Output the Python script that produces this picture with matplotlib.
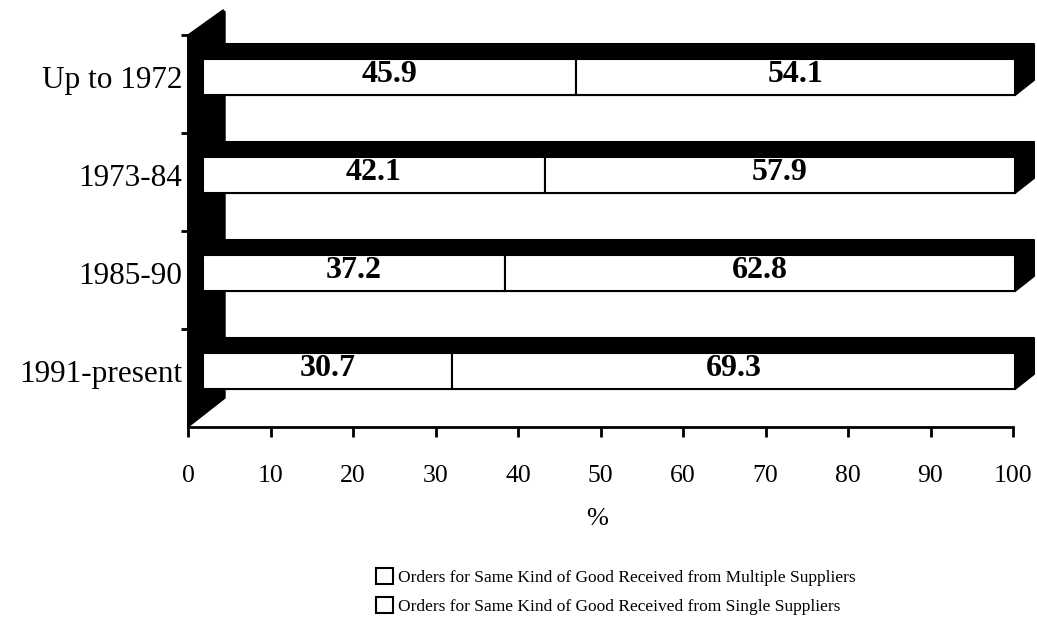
import matplotlib.pyplot as plt
from matplotlib.patches import Polygon, Patch

# ---------- data ----------
periods = ['Up to 1972', '1973-84', '1985-90', '1991-present']
multiple = [45.9, 42.1, 37.2, 30.7]
single = [54.1, 57.9, 62.8, 69.3]
ticks = list(range(0, 101, 10))
legend_labels = ['Orders for Same Kind of Good Received from Multiple Suppliers',
                 'Orders for Same Kind of Good Received from Single Suppliers']

plt.rcParams['font.family'] = ['Liberation Serif', 'DejaVu Serif']

W, H = 1037, 641
fig = plt.figure(figsize=(W / 100, H / 100), dpi=100)


def box(l, t, r, b):
    # pixel box (from top-left) -> figure fraction
    return [l / W, 1 - b / H, (r - l) / W, (b - t) / H]


# value axis (floor of the 3D chart)
ax = fig.add_axes(box(188, 35, 1013, 427))
ax.set_xlim(0, 100)
ax.set_ylim(0, 4)
ax.set_xticks(ticks)
ax.set_yticks([1, 2, 3, 4])
ax.set_yticklabels([])
for s in ['top', 'right']:
    ax.spines[s].set_visible(False)
ax.spines['bottom'].set_linewidth(2)
ax.spines['left'].set_linewidth(2)
ax.tick_params(axis='x', direction='out', length=7, width=2, pad=20, labelsize=18.5)
ax.tick_params(axis='y', direction='out', length=5, width=2)
ax.patch.set_visible(False)

# bars (front plane of the 3D chart)
bx = fig.add_axes(box(203, 28, 1015, 420), zorder=2)
bx.set_xlim(0, 100)
bx.set_ylim(3.5, -0.5)
bx.patch.set_visible(False)
for s in bx.spines.values():
    s.set_visible(False)
bx.set_xticks([])
bx.set_yticks(range(len(periods)))
bx.set_yticklabels(periods, fontsize=22.5)
bx.tick_params(axis='y', length=0, pad=15)

# 3D depth in data units
dx, dy, h = 19 / 8.12, 15 / 98, 36 / 98


def px(x, y):
    return ((x - 203) / 8.12, (y - 77) / 98)


# side wall
wall = Polygon([px(188, 35), px(223, 10), px(225, 12), px(225, 398), px(188, 427)],
               closed=True, fc='black', ec='black', clip_on=False, zorder=1)
bx.add_patch(wall)

for i in range(len(periods)):
    yt, yb = i - h / 2, i + h / 2
    depth = Polygon([(0, yt), (dx, yt - dy), (100 + dx, yt - dy), (100 + dx, yb - dy),
                     (100, yb), (0, yb)], closed=True, fc='black', ec='black',
                    lw=1.5, joinstyle='round', clip_on=False, zorder=2)
    bx.add_patch(depth)

b1 = bx.barh(range(len(periods)), multiple, height=h, color='white', edgecolor='black',
             linewidth=1.5, zorder=3)
b2 = bx.barh(range(len(periods)), single, left=multiple, height=h, color='white',
             edgecolor='black', linewidth=1.5, zorder=3)
for p in list(b1) + list(b2):
    p.set_clip_on(False)

for i in range(len(periods)):
    bx.text(multiple[i] / 2, i - 0.03, f'{multiple[i]}', ha='center', va='center',
            fontsize=23, fontweight='bold', zorder=4)
    bx.text(multiple[i] + single[i] / 2, i - 0.03, f'{single[i]}', ha='center',
            va='center', fontsize=23, fontweight='bold', zorder=4)

fig.text(597 / W, 1 - 519 / H, '%', ha='center', va='center', fontsize=19)

handles = [Patch(fc='white', ec='black', lw=1.5), Patch(fc='white', ec='black', lw=1.5)]
fig.legend(handles, legend_labels, loc='upper left', bbox_to_anchor=(376 / W, 1 - 568 / H),
           frameon=False, fontsize=12.5, handlelength=1.0, handleheight=1.0,
           handletextpad=0.25, labelspacing=0.65, borderpad=0, borderaxespad=0)

fig.savefig('out.png', dpi=100)
